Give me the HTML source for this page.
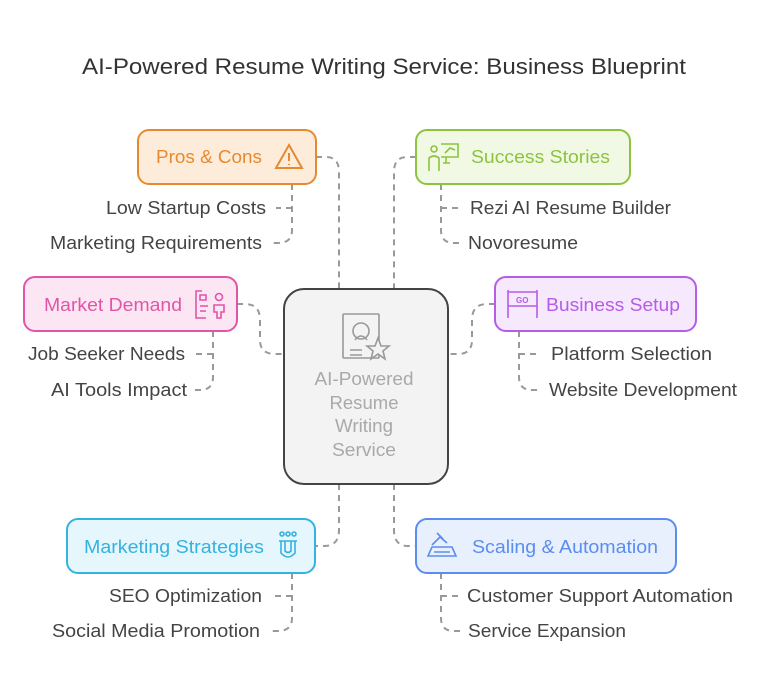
<!DOCTYPE html>
<html><head><meta charset="utf-8"><style>
body{margin:0;background:#fff;}
text{font-family:"Liberation Sans",sans-serif;}
</style></head><body>
<svg width="768" height="691" viewBox="0 0 768 691" xmlns="http://www.w3.org/2000/svg">
<text x="82" y="74" font-size="22.5" fill="#333" textLength="604" lengthAdjust="spacingAndGlyphs">AI-Powered Resume Writing Service: Business Blueprint</text>
<g fill="none" stroke="#999" stroke-width="2" stroke-dasharray="6,5">
<path d="M316 157 H326 Q339 157 339 172 V289"/>
<path d="M416 157 H407 Q394 157 394 172 V289"/>
<path d="M237 304 H245 Q260 304 260 320 V340 Q260 354 275 354 H284"/>
<path d="M495 304 H487 Q472 304 472 320 V340 Q472 354 458 354 H448"/>
<path d="M339 484 V530 Q339 546 324 546 H315"/>
<path d="M394 484 V530 Q394 546 408 546 H416"/>
<path d="M292 184 V230 Q292 243 278 243 H272"/>
<path d="M292 208 H276"/>
<path d="M213 331 V377 Q213 390 200 390 H194"/>
<path d="M213 354 H196"/>
<path d="M441 184 V230 Q441 243 454 243 H460"/>
<path d="M441 208 H458"/>
<path d="M519 331 V377 Q519 390 532 390 H538"/>
<path d="M519 354 H536"/>
<path d="M292 573 V618 Q292 631 278 631 H270"/>
<path d="M292 596 H274"/>
<path d="M441 573 V618 Q441 631 454 631 H460"/>
<path d="M441 596 H458"/>
</g>
<rect x="138" y="130" width="178" height="54" rx="11" fill="#fdecd9" stroke="#e8892f" stroke-width="2"/>
<text x="156" y="163" font-size="18.5" fill="#e8892f" textLength="106" lengthAdjust="spacingAndGlyphs">Pros &amp; Cons</text>
<path d="M289 145 L302 168 H276 Z M289 153 V161 M289 164 V165" fill="none" stroke="#e8892f" stroke-width="2"/>
<rect x="416" y="130" width="214" height="54" rx="11" fill="#f1f8e4" stroke="#8cc43f" stroke-width="2"/>
<text x="471" y="163" font-size="18.5" fill="#8cc43f" textLength="139" lengthAdjust="spacingAndGlyphs">Success Stories</text>
<g fill="none" stroke="#8cc43f" stroke-width="1.6"><circle cx="434" cy="149" r="3"/><path d="M429 171 V158 Q434 154 439 158 V171 M441 144 H458 V157 H441 M446 157 V163 M443 163 H450 M445 153 L450 148 L455 150"/></g>
<rect x="24" y="277" width="213" height="54" rx="11" fill="#fde6f3" stroke="#e055a8" stroke-width="2"/>
<text x="44" y="311" font-size="18.5" fill="#e055a8" textLength="138" lengthAdjust="spacingAndGlyphs">Market Demand</text>
<g fill="none" stroke="#e055a8" stroke-width="1.6"><path d="M202 291 H196 V318 H206 M200 295 H206 V300 H200 Z M200 306 H208 M200 311 H206"/><circle cx="219" cy="297" r="3.5"/><path d="M214 312 V305 H224 V312 H221 V318 H217 V312 Z"/></g>
<rect x="495" y="277" width="201" height="54" rx="11" fill="#f6e8fd" stroke="#b65ce6" stroke-width="2"/>
<text x="546" y="311" font-size="18.5" fill="#b65ce6" textLength="134" lengthAdjust="spacingAndGlyphs">Business Setup</text>
<g fill="none" stroke="#b65ce6" stroke-width="1.6"><path d="M508 290 V318 M537 290 V318 M508 292 H537 M508 306 H537"/><text x="516" y="303" font-size="8" fill="#b65ce6" stroke="none" font-weight="bold">GO</text></g>
<rect x="284" y="289" width="164" height="195" rx="20" fill="#f3f3f3" stroke="#444" stroke-width="2"/>
<g fill="none" stroke="#999" stroke-width="1.6"><rect x="343" y="314" width="36" height="44" rx="1"/><circle cx="361" cy="331" r="8"/><path d="M355 340 Q361 332 367 340 M350 350 H362 M350 355 H362"/><path d="M378 338 L381 346 L389 346 L383 351 L385 359 L378 354 L371 359 L373 351 L367 346 L375 346 Z" fill="#f3f3f3"/></g>
<g font-size="18.5" fill="#a9a9a9" text-anchor="middle">
<text x="364" y="385" textLength="99" lengthAdjust="spacingAndGlyphs">AI-Powered</text>
<text x="364" y="409" textLength="69" lengthAdjust="spacingAndGlyphs">Resume</text>
<text x="364" y="432" textLength="58" lengthAdjust="spacingAndGlyphs">Writing</text>
<text x="364" y="456" textLength="64" lengthAdjust="spacingAndGlyphs">Service</text>
</g>
<rect x="67" y="519" width="248" height="54" rx="11" fill="#e5f6fd" stroke="#35b2e0" stroke-width="2"/>
<text x="84" y="553" font-size="18.5" fill="#35b2e0" textLength="180" lengthAdjust="spacingAndGlyphs">Marketing Strategies</text>
<g fill="none" stroke="#35b2e0" stroke-width="1.6"><circle cx="282" cy="534" r="2"/><circle cx="288" cy="534" r="2"/><circle cx="294" cy="534" r="2"/><path d="M279 541 H297 M281 541 V553 Q288 561 295 553 V541 M285 541 V551 Q288 554 291 551 V541"/></g>
<rect x="416" y="519" width="260" height="54" rx="11" fill="#e9f0fd" stroke="#5b8def" stroke-width="2"/>
<text x="472" y="553" font-size="18.5" fill="#5b8def" textLength="186" lengthAdjust="spacingAndGlyphs">Scaling &amp; Automation</text>
<g fill="none" stroke="#5b8def" stroke-width="1.6"><path d="M428 556 L432 547 H452 L456 556 Z M432 545 L440 537 L447 543 M437 533 L443 539 M434 552 H450"/></g>
<g font-size="18.5" fill="#444" lengthAdjust="spacingAndGlyphs">
<text x="106" y="214" textLength="160" lengthAdjust="spacingAndGlyphs">Low Startup Costs</text>
<text x="50" y="249" textLength="212" lengthAdjust="spacingAndGlyphs">Marketing Requirements</text>
<text x="28" y="360" textLength="157" lengthAdjust="spacingAndGlyphs">Job Seeker Needs</text>
<text x="51" y="396" textLength="136" lengthAdjust="spacingAndGlyphs">AI Tools Impact</text>
<text x="109" y="602" textLength="153" lengthAdjust="spacingAndGlyphs">SEO Optimization</text>
<text x="52" y="637" textLength="208" lengthAdjust="spacingAndGlyphs">Social Media Promotion</text>
<text x="470" y="214" textLength="201" lengthAdjust="spacingAndGlyphs">Rezi AI Resume Builder</text>
<text x="468" y="249" textLength="110" lengthAdjust="spacingAndGlyphs">Novoresume</text>
<text x="551" y="360" textLength="161" lengthAdjust="spacingAndGlyphs">Platform Selection</text>
<text x="549" y="396" textLength="188" lengthAdjust="spacingAndGlyphs">Website Development</text>
<text x="467" y="602" textLength="266" lengthAdjust="spacingAndGlyphs">Customer Support Automation</text>
<text x="468" y="637" textLength="158" lengthAdjust="spacingAndGlyphs">Service Expansion</text>
</g>
</svg>
</body></html>
